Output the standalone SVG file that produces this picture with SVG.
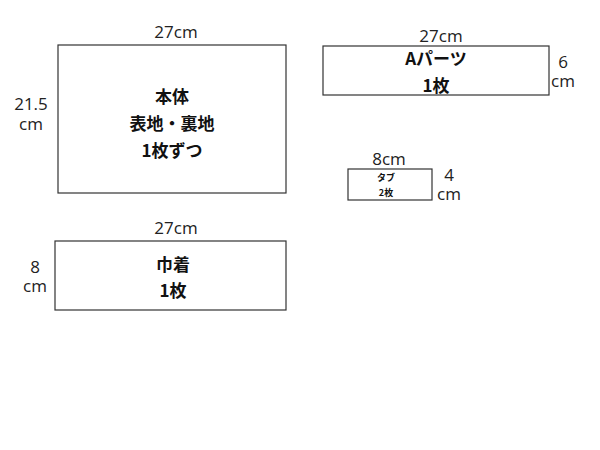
<svg xmlns="http://www.w3.org/2000/svg" width="600" height="450" viewBox="0 0 600 450">
<style>
.r{fill:#fff;stroke:#333;stroke-width:1.2}
.d{font-family:"Open Sans","Noto Sans",sans-serif;font-size:17px;fill:#222;text-anchor:middle}
.l{font-family:"Noto Sans CJK JP","Noto Sans",sans-serif;font-weight:bold;font-size:17px;fill:#111;text-anchor:middle}
.s{font-size:9px}
</style>
<rect width="600" height="450" fill="#fff"/>
<g id="hontai">
<rect class="r" x="58" y="45" width="228" height="148"/>
<text class="d" x="176" y="38">27cm</text>
<text class="d" x="31" y="110">21.5</text>
<text class="d" x="31" y="130">cm</text>
<text class="l" x="172" y="103">本体</text>
<text class="l" x="172" y="130">表地・裏地</text>
<text class="l" x="172" y="157">1枚ずつ</text>
</g>
<g id="aparts">
<rect class="r" x="323" y="46" width="226" height="49"/>
<text class="d" x="441" y="42">27cm</text>
<text class="d" x="563" y="68">6</text>
<text class="d" x="563" y="87">cm</text>
<text class="l" x="436" y="65">Aパーツ</text>
<text class="l" x="436" y="92">1枚</text>
</g>
<g id="tab">
<rect class="r" x="348" y="169" width="84" height="31"/>
<text class="d" x="389" y="165">8cm</text>
<text class="d" x="449" y="181">4</text>
<text class="d" x="449" y="200">cm</text>
<text class="l s" x="386" y="181">タブ</text>
<text class="l s" x="386" y="196">2枚</text>
</g>
<g id="kinchaku">
<rect class="r" x="55" y="241" width="231" height="69"/>
<text class="d" x="176" y="234">27cm</text>
<text class="d" x="35" y="273">8</text>
<text class="d" x="35" y="292">cm</text>
<text class="l" x="173" y="271">巾着</text>
<text class="l" x="173" y="297">1枚</text>
</g>
<g id="connectors"></g>
</svg>
